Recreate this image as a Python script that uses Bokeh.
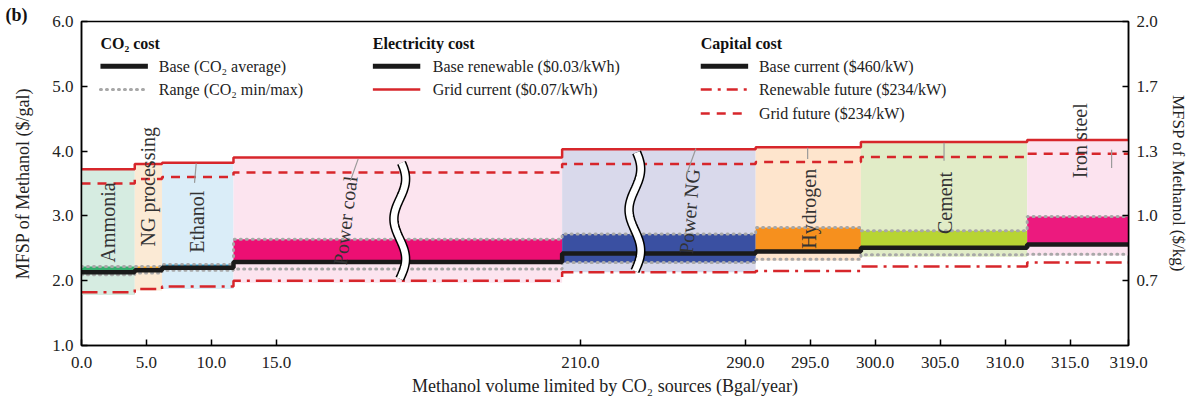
import math
from bokeh.plotting import figure
from bokeh.models import Range1d, LinearAxis, FixedTicker, CustomJSTickFormatter
from bokeh.core.properties import value
from bokeh.embed import file_html
from bokeh.resources import INLINE

# ---------------- data ----------------
categories = ["Ammonia", "NG processing", "Ethanol", "Power coal",
              "Power NG", "Hydrogen", "Cement", "Iron steel"]
# cumulative methanol volume (Bgal/year) at each source boundary
edges = [0.0, 4.1, 6.2, 11.7, 208.6, 290.8, 298.9, 311.7, 319.5]
base = [2.13, 2.16, 2.20, 2.29, 2.42, 2.45, 2.51, 2.56]          # CO2 average, base
co2_min = [2.09, 2.12, 2.16, 2.18, 2.28, 2.33, 2.40, 2.41]
co2_max = [2.22, 2.22, 2.25, 2.64, 2.72, 2.82, 2.77, 2.99]
band_low = [2.13, 2.16, 2.20, 2.29, 2.28, 2.45, 2.51, 2.56]      # lower edge of coloured band
grid_current = [3.72, 3.80, 3.82, 3.90, 4.03, 4.06, 4.14, 4.17]
grid_future = [3.50, 3.57, 3.60, 3.67, 3.80, 3.83, 3.91, 3.96]
renew_future = [1.82, 1.87, 1.91, 2.00, 2.13, 2.15, 2.22, 2.28]
shade_low = [1.78, 1.85, 1.87, 1.97, 2.13, 2.31, 2.37, 2.39]

pale_colors = ["#d6ece1", "#fbead5", "#daedf8", "#fce4ef",
               "#d9d9eb", "#fee5cd", "#e1ecc7", "#fce3ef"]
dark_colors = ["#35ad6e", "#f5a11c", "#2aa9e0", "#ec0f73",
               "#3a50a2", "#f6901e", "#b7d433", "#ec1a7e"]

label_x = [2.07, 5.15, 8.9, 20.3, 285.7, 294.9, 305.4, 315.8]
label_y = [2.90, 3.45, 2.91, 2.93, 3.07, 3.11, 3.20, 4.16]
label_angle = [90, 90, 90, 83, 85, 90, 90, 90]

x_tick_values = [0, 5, 10, 15, 210, 290, 295, 300, 305, 310, 315, 319.5]
x_tick_labels = ["0.0", "5.0", "10.0", "15.0", "210.0", "290.0", "295.0",
                 "300.0", "305.0", "310.0", "315.0", "319.0"]
kg_per_gal = 3.0
y_ticks = [1.0, 2.0, 3.0, 4.0, 5.0, 6.0]

# broken x axis: visible real-value segments
segments = [(0.0, 24.5), (196.1, 214.2), (281.5, 319.5)]


def disp(v):
    off = 0.0
    for i, (lo, hi) in enumerate(segments):
        if v <= hi or i == len(segments) - 1:
            return off + max(v, lo) - lo
        off += hi - lo


X_END = disp(edges[-1])
FONT = value("Liberation Serif")
RED = "#d7262b"
DOT = dict(line_color="#a8a8a8", line_width=3, line_dash="1 5", line_cap="round")

p = figure(width=1190, height=402, output_backend="svg", toolbar_location=None,
           x_range=Range1d(0, X_END), y_range=Range1d(1.0, 6.0),
           min_border_left=81, min_border_right=59, min_border_top=21,
           min_border_bottom=57, title="(b)")
p.title.align = "left"
p.title.offset = -76
p.title.standoff = -7
p.title.text_font = "Liberation Serif"
p.title.text_font_size = "18px"
p.title.text_font_style = "bold"
p.title.text_color = "#111111"
p.xgrid.visible = False
p.ygrid.visible = False
p.outline_line_color = "black"
p.outline_line_width = 1.5
p.outline_line_alpha = 1.0
p.background_fill_color = "white"
p.border_fill_color = "white"

dx = [disp(e) for e in edges]
left = dx[:-1]
right = dx[1:]

# shaded regions
p.quad(left=left, right=right, bottom=shade_low, top=grid_current,
       fill_color=pale_colors, line_color=None)
p.quad(left=left, right=right, bottom=band_low, top=co2_max,
       fill_color=dark_colors, line_color=None)


def step(vals, **kw):
    p.step(x=dx, y=vals + [vals[-1]], mode="after", **kw)


step(co2_max, **DOT)
step(co2_min, **DOT)
step(base, line_color="#1a1a1a", line_width=4.5)
step(grid_current, line_color=RED, line_width=2.5)
step(grid_future, line_color=RED, line_width=2.5, line_dash="9 7")
step(renew_future, line_color=RED, line_width=2.5, line_dash="16 6 3 6")

# axis-break symbols
for xb, y0, y1 in [(segments[0][1], 2.03, 3.82),
                   (segments[0][1] + segments[1][1] - segments[1][0], 2.15, 3.98)]:
    n = 60
    ts = [i / (n - 1) for i in range(n)]
    ys = [y1 - t * (y1 - y0) for t in ts]
    xs = [xb + 0.45 * math.sin(2 * math.pi * 1.45 * t + 0.3) for t in ts]
    p.line(xs, ys, line_color="black", line_width=9.5)
    p.line(xs, ys, line_color="white", line_width=6.5)

# category labels
p.text(x=[disp(v) for v in label_x], y=label_y, text=categories,
       angle=[math.radians(a) for a in label_angle],
       text_font=FONT, text_font_size="20px", text_color="#333333",
       text_align="center", text_baseline="middle")

# leader lines
lead_x0 = [8.83, 21.3, 47.3, 55.9, 66.4, 79.3]
lead_y0 = [3.81, 3.88, 4.04, 4.05, 4.13, 4.02]
lead_x1 = [8.70, 20.7, 46.6, 55.9, 66.4, 79.3]
lead_y1 = [3.51, 3.54, 3.65, 3.88, 3.85, 3.74]
p.segment(x0=lead_x0, y0=lead_y0, x1=lead_x1, y1=lead_y1,
          line_color="#9a9a9a", line_width=1.2)

# custom legend
def legend_group(x_line, x_text, heading, items):
    p.text(x=[x_line], y=[5.66], text=[heading], text_font=FONT,
           text_font_size="16px", text_font_style="bold", text_color="#111111",
           text_baseline="middle")
    rows = [5.31, 4.95, 4.58]
    for (label, style), yy in zip(items, rows):
        p.line([x_line, x_line + 3.65], [yy, yy], **style)
        p.text(x=[x_text], y=[yy], text=[label], text_font=FONT,
               text_font_size="16px", text_color="#222222", text_baseline="middle")


black_style = dict(line_color="#1a1a1a", line_width=5)
legend_group(1.46, 5.95, "CO₂ cost", [
    ("Base (CO₂ average)", black_style),
    ("Range (CO₂ min/max)", DOT),
])
legend_group(22.43, 27.04, "Electricity cost", [
    ("Base renewable ($0.03/kWh)", black_style),
    ("Grid current ($0.07/kWh)", dict(line_color=RED, line_width=2.5)),
])
legend_group(47.67, 52.15, "Capital cost", [
    ("Base current ($460/kW)", black_style),
    ("Renewable future ($234/kW)", dict(line_color=RED, line_width=2.5,
                                        line_dash="11 6 3 6")),
    ("Grid future ($234/kW)", dict(line_color=RED, line_width=2.5, line_dash="9 7")),
])

# axes
for ax in [p.xaxis[0], p.yaxis[0]]:
    ax.axis_line_color = "black"
    ax.axis_line_width = 1.5
    ax.major_tick_in = 6
    ax.major_tick_out = 0
    ax.major_tick_line_width = 1.5
    ax.minor_tick_line_color = None
    ax.major_label_text_font = "Liberation Serif"
    ax.major_label_text_font_size = "17px"
    ax.major_label_text_color = "#222222"
    ax.axis_label_text_font = "Liberation Serif"
    ax.axis_label_text_font_style = "normal"
    ax.axis_label_text_font_size = "18px"
    ax.axis_label_text_color = "#222222"

xt = [disp(v) for v in x_tick_values]
p.xaxis.ticker = FixedTicker(ticks=xt)
p.xaxis.major_label_overrides = {t: s for t, s in zip(xt, x_tick_labels)}
p.xaxis.major_label_standoff = 11
p.xaxis.axis_label = "Methanol volume limited by CO₂ sources (Bgal/year)"
p.xaxis.axis_label_standoff = 5

p.yaxis.ticker = FixedTicker(ticks=y_ticks)
p.yaxis.formatter = CustomJSTickFormatter(code="return tick.toFixed(1)")
p.yaxis.axis_label = "MFSP of Methanol ($/gal)"
p.yaxis.axis_label_standoff = 16
p.yaxis.major_label_standoff = 8

p.extra_y_ranges = {"kg": Range1d(1.0 / kg_per_gal, 6.0 / kg_per_gal)}
rax = LinearAxis(y_range_name="kg",
                 ticker=FixedTicker(ticks=[v / kg_per_gal for v in y_ticks[1:]]),
                 formatter=CustomJSTickFormatter(code="return tick.toFixed(1)"),
                 axis_label="MFSP of Methanol ($/kg)")
rax.axis_line_color = "black"
rax.axis_line_width = 1.5
rax.major_tick_in = 6
rax.major_tick_out = 0
rax.major_tick_line_width = 1.5
rax.minor_tick_line_color = None
rax.major_label_text_font = "Liberation Serif"
rax.major_label_text_font_size = "17px"
rax.major_label_text_color = "#222222"
rax.major_label_standoff = 8
rax.axis_label_text_font = "Liberation Serif"
rax.axis_label_text_font_style = "normal"
rax.axis_label_text_font_size = "17px"
rax.axis_label_text_color = "#222222"
rax.axis_label_standoff = 8
p.add_layout(rax, "right")

open("out.html", "w").write(file_html(p, INLINE))
